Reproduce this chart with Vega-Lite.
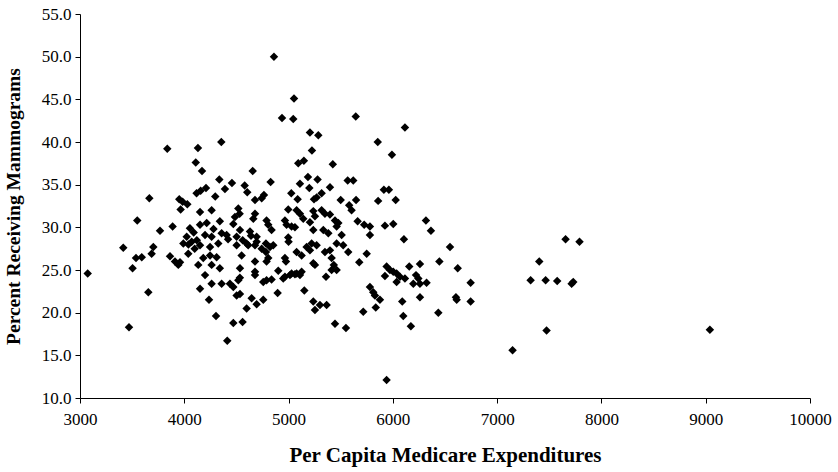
{
  "$schema": "https://vega.github.io/schema/vega-lite/v6.json",
  "width": 730,
  "height": 384,
  "autosize": "none",
  "padding": {"left": 80, "top": 14, "right": 28, "bottom": 74},
  "background": "white",
  "config": {
    "view": {"stroke": null},
    "font": "Liberation Serif",
    "axis": {"grid": false, "domainColor": "black", "tickColor": "black", "labelColor": "black", "titleColor": "black", "labelFont": "Liberation Serif", "titleFont": "Liberation Serif", "domainWidth": 1, "tickWidth": 1, "labelFlush": false, "labelOverlap": false}
  },
  "data": {"values": [
    {"x":4860,"y":50.0},{"x":5052,"y":45.1},{"x":4937,"y":42.8},{"x":5045,"y":42.7},{"x":5644,"y":43.0},
    {"x":6116,"y":41.7},{"x":5205,"y":41.1},{"x":5285,"y":40.8},{"x":5855,"y":40.0},{"x":4355,"y":40.0},
    {"x":3837,"y":39.2},{"x":4131,"y":39.3},{"x":5224,"y":39.0},{"x":5991,"y":38.5},{"x":4110,"y":37.6},
    {"x":5093,"y":37.5},{"x":5147,"y":37.8},{"x":5424,"y":37.4},{"x":4170,"y":36.6},{"x":4656,"y":36.6},
    {"x":4336,"y":35.6},{"x":4457,"y":35.2},{"x":4828,"y":35.3},{"x":4579,"y":34.9},{"x":5186,"y":35.9},
    {"x":5278,"y":35.6},{"x":5567,"y":35.5},{"x":5620,"y":35.5},{"x":5109,"y":35.1},{"x":5199,"y":34.6},
    {"x":5397,"y":34.7},{"x":4604,"y":34.1},{"x":4390,"y":34.5},{"x":4208,"y":34.6},{"x":4157,"y":34.3},
    {"x":4118,"y":34.0},{"x":4297,"y":33.6},{"x":3665,"y":33.4},{"x":3952,"y":33.3},{"x":3984,"y":33.0},
    {"x":4029,"y":32.7},{"x":3965,"y":32.1},{"x":4678,"y":33.2},{"x":4764,"y":33.8},{"x":5026,"y":34.0},
    {"x":5087,"y":33.3},{"x":5317,"y":34.0},{"x":5269,"y":33.5},{"x":5244,"y":33.3},{"x":5500,"y":33.2},
    {"x":5647,"y":33.2},{"x":5859,"y":33.1},{"x":4742,"y":33.4},{"x":5914,"y":34.4},{"x":5962,"y":34.4},
    {"x":6027,"y":33.2},{"x":5581,"y":32.6},{"x":5604,"y":32.0},{"x":4997,"y":32.1},{"x":5077,"y":32.0},
    {"x":5109,"y":31.6},{"x":5237,"y":31.9},{"x":5317,"y":32.0},{"x":5349,"y":31.6},{"x":5397,"y":31.5},
    {"x":5141,"y":31.0},{"x":5205,"y":30.6},{"x":5253,"y":31.3},{"x":5445,"y":30.8},{"x":5477,"y":30.5},
    {"x":5461,"y":30.1},{"x":5662,"y":30.7},{"x":5725,"y":30.3},{"x":5780,"y":30.1},{"x":4965,"y":30.8},
    {"x":4981,"y":30.3},{"x":5029,"y":30.1},{"x":5061,"y":30.0},{"x":4789,"y":30.8},{"x":4805,"y":30.3},
    {"x":4837,"y":29.7},{"x":5237,"y":29.7},{"x":5333,"y":29.7},{"x":5381,"y":29.3},{"x":5509,"y":29.1},
    {"x":5780,"y":29.1},{"x":4997,"y":28.8},{"x":5924,"y":30.2},{"x":6004,"y":30.4},{"x":6317,"y":30.8},
    {"x":6365,"y":29.6},{"x":6106,"y":28.6},{"x":4151,"y":31.8},{"x":4262,"y":32.0},{"x":4518,"y":32.2},
    {"x":4531,"y":31.6},{"x":4486,"y":31.2},{"x":4678,"y":31.6},{"x":4662,"y":31.0},{"x":3549,"y":30.8},
    {"x":3767,"y":29.6},{"x":3888,"y":30.1},{"x":4151,"y":30.3},{"x":4341,"y":30.7},{"x":4054,"y":29.9},
    {"x":4023,"y":28.9},{"x":4199,"y":29.1},{"x":4262,"y":28.9},{"x":4358,"y":29.3},{"x":4406,"y":29.1},
    {"x":4534,"y":29.7},{"x":4630,"y":29.5},{"x":4694,"y":28.9},{"x":4502,"y":28.9},{"x":3703,"y":27.7},
    {"x":3687,"y":26.9},{"x":3592,"y":26.5},{"x":3537,"y":26.4},{"x":3415,"y":27.6},{"x":3504,"y":25.2},
    {"x":3863,"y":26.6},{"x":3911,"y":26.0},{"x":3943,"y":25.6},{"x":3959,"y":25.9},{"x":4038,"y":26.9},
    {"x":3991,"y":28.1},{"x":4071,"y":28.3},{"x":4151,"y":27.9},{"x":4247,"y":27.7},{"x":4326,"y":28.1},
    {"x":4134,"y":25.6},{"x":4182,"y":26.4},{"x":4247,"y":26.7},{"x":4310,"y":26.5},{"x":4262,"y":25.6},
    {"x":4341,"y":25.2},{"x":4199,"y":24.4},{"x":4502,"y":27.9},{"x":4598,"y":28.1},{"x":4613,"y":27.9},
    {"x":4550,"y":26.7},{"x":4678,"y":26.0},{"x":4678,"y":24.8},{"x":4678,"y":24.4},{"x":4534,"y":25.2},
    {"x":4262,"y":23.4},{"x":4151,"y":22.8},{"x":3655,"y":22.4},{"x":4358,"y":23.4},{"x":4438,"y":23.4},
    {"x":4470,"y":23.0},{"x":4518,"y":23.8},{"x":4533,"y":24.1},{"x":4534,"y":22.2},{"x":4502,"y":22.0},
    {"x":4646,"y":21.7},{"x":4694,"y":21.0},{"x":4598,"y":20.5},{"x":4237,"y":21.5},{"x":4304,"y":19.6},
    {"x":4470,"y":18.8},{"x":4559,"y":18.9},{"x":4412,"y":16.7},{"x":3074,"y":24.6},{"x":3470,"y":18.3},
    {"x":4757,"y":21.5},{"x":4757,"y":23.6},{"x":4789,"y":23.8},{"x":4837,"y":23.9},{"x":4901,"y":24.9},
    {"x":4895,"y":22.3},{"x":4965,"y":26.4},{"x":4975,"y":26.0},{"x":4949,"y":24.0},{"x":5013,"y":24.4},
    {"x":5061,"y":24.5},{"x":5000,"y":28.3},{"x":5077,"y":27.1},{"x":4678,"y":27.9},{"x":4694,"y":28.3},
    {"x":4783,"y":28.1},{"x":4822,"y":27.7},{"x":4783,"y":27.1},{"x":4742,"y":27.5},{"x":4853,"y":27.9},
    {"x":4789,"y":26.0},{"x":4805,"y":26.4},{"x":5125,"y":26.7},{"x":5173,"y":27.7},{"x":5221,"y":28.1},
    {"x":5269,"y":27.9},{"x":5205,"y":27.3},{"x":5349,"y":27.1},{"x":5397,"y":27.3},{"x":5413,"y":26.4},
    {"x":5461,"y":28.1},{"x":5524,"y":27.9},{"x":5572,"y":27.1},{"x":5237,"y":25.8},{"x":5253,"y":25.6},
    {"x":5434,"y":25.6},{"x":5461,"y":25.0},{"x":5413,"y":25.0},{"x":5749,"y":26.9},{"x":5678,"y":25.9},
    {"x":5029,"y":24.6},{"x":5077,"y":24.6},{"x":5125,"y":24.8},{"x":5109,"y":24.4},{"x":4965,"y":24.2},
    {"x":5359,"y":24.2},{"x":5151,"y":22.6},{"x":5237,"y":21.3},{"x":5253,"y":20.3},{"x":5301,"y":20.9},
    {"x":5365,"y":20.9},{"x":5445,"y":18.7},{"x":5550,"y":18.2},{"x":5780,"y":23.0},{"x":5812,"y":22.4},
    {"x":5828,"y":22.0},{"x":5716,"y":20.1},{"x":5836,"y":20.6},{"x":5876,"y":21.5},{"x":6548,"y":27.7},
    {"x":6446,"y":26.0},{"x":6622,"y":25.2},{"x":6260,"y":25.7},{"x":6157,"y":25.4},{"x":5940,"y":25.4},
    {"x":5972,"y":25.0},{"x":6004,"y":24.8},{"x":6036,"y":24.6},{"x":6068,"y":24.2},{"x":5924,"y":24.3},
    {"x":6116,"y":24.0},{"x":6036,"y":23.6},{"x":6222,"y":24.4},{"x":6244,"y":24.0},{"x":6196,"y":23.4},
    {"x":6260,"y":23.4},{"x":6323,"y":23.5},{"x":6746,"y":23.5},{"x":6090,"y":21.3},{"x":6260,"y":21.8},
    {"x":6605,"y":21.8},{"x":6612,"y":21.5},{"x":6746,"y":21.3},{"x":6100,"y":19.6},{"x":6436,"y":20.0},
    {"x":6173,"y":18.4},{"x":5940,"y":12.1},{"x":7148,"y":15.6},{"x":7474,"y":17.9},{"x":7321,"y":23.8},
    {"x":7404,"y":26.0},{"x":7465,"y":23.8},{"x":7576,"y":23.7},{"x":7656,"y":28.6},{"x":7714,"y":23.4},
    {"x":7730,"y":23.6},{"x":7790,"y":28.3},{"x":9040,"y":18.0},
    {"x":4090,"y":29.4},{"x":4120,"y":28.5},{"x":4280,"y":29.8},{"x":4420,"y":28.6},{"x":4560,"y":28.5},
    {"x":4100,"y":27.5},{"x":4040,"y":28.0},{"x":4215,"y":30.5},{"x":4470,"y":30.4},{"x":4640,"y":29.0}
  ]},
  "mark": {"type": "point", "shape": "diamond", "filled": true, "color": "black", "opacity": 1, "size": 72},
  "encoding": {
    "x": {"field": "x", "type": "quantitative", "scale": {"domain": [3000, 10000], "nice": false, "zero": false},
      "axis": {"values": [3000,4000,5000,6000,7000,8000,9000,10000], "format": "d", "title": "Per Capita Medicare Expenditures", "labelFontSize": 17, "titleFontSize": 21, "titleFontWeight": "bold", "labelPadding": 8, "titlePadding": 17, "tickSize": 5}},
    "y": {"field": "y", "type": "quantitative", "scale": {"domain": [10, 55], "nice": false, "zero": false},
      "axis": {"values": [10,15,20,25,30,35,40,45,50,55], "format": ".1f", "title": "Percent Receiving Mammograms", "labelFontSize": 17, "titleFontSize": 19.5, "titleFontWeight": "bold", "labelPadding": 4, "titlePadding": 18, "tickSize": 5}}
  }
}
